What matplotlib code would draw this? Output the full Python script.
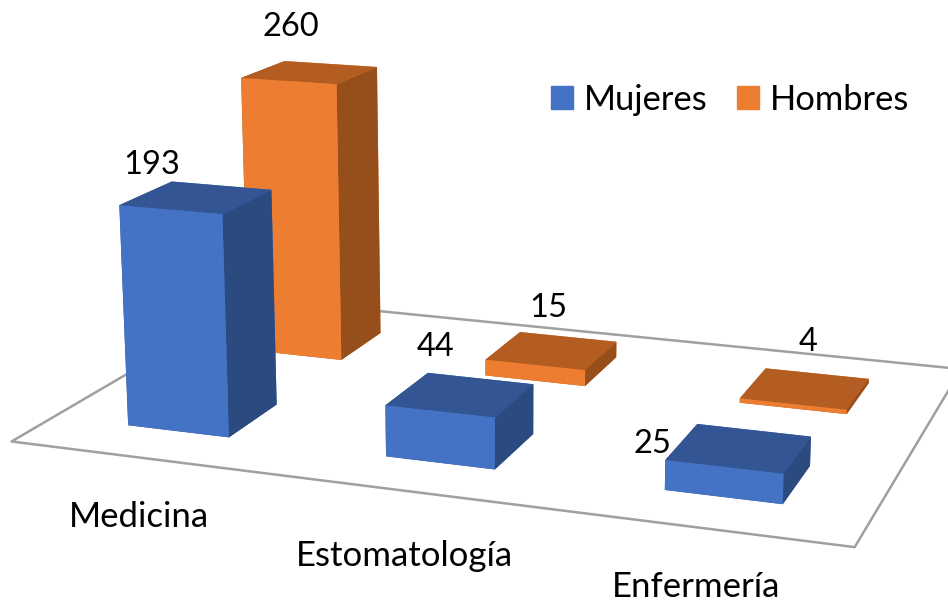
import matplotlib
matplotlib.use("Agg")
import matplotlib.pyplot as plt
from matplotlib.patches import Patch
from mpl_toolkits.mplot3d.art3d import Poly3DCollection

plt.rcParams['font.family'] = ['Lato', 'DejaVu Sans']

categories = ["Medicina", "Estomatología", "Enfermería"]
mujeres = [193, 44, 25]
hombres = [260, 15, 4]
# face colours in bar3d order: bottom, top, front, back, left, right
blue = ['#2f528f', '#335593', '#4472c4', '#4472c4', '#2f528f', '#2a4a80']
orange = ['#ae5a21', '#b35d22', '#ed7d31', '#ed7d31', '#ae5a21', '#964f1b']

# label centres in pixels from the top left of the picture
category_pos = [(139, 517), (404, 556), (696, 587)]
mujeres_pos = [(152, 165), (436, 347), (652, 444)]
hombres_pos = [(291, 27), (548, 308), (808, 342)]

W, H = 948, 604


def px_text(pos, s, size=24):
    fig.text(pos[0] / W, 1 - pos[1] / H, s, fontsize=size, color='black', ha='center', va='center')


fig = plt.figure(figsize=(9.48, 6.04), dpi=100)
ax = fig.add_axes([26.3 / W, 56.1 / H, 1, 1], projection='3d', computed_zorder=False)
ax.set_axis_off()
ax.set_proj_type('persp', focal_length=0.7446)
ax.view_init(elev=14.1154, azim=-70.3046)
ax.set_box_aspect((2.6, 1.7217, 1.093), zoom=1.6911)
ax.set_xlim(0, 3)
ax.set_ylim(0, 2)
ax.set_zlim(0, 300)

floor = [[(0, 0, 0), (3, 0, 0), (3, 2, 0), (0, 2, 0)]]
ax.add_collection3d(Poly3DCollection(floor, facecolor='white', edgecolor='#a0a0a0', linewidth=1.8, zorder=1, clip_on=False))

w, d = 0.4, 0.4
z = 2
for i in range(3):
    back = ax.bar3d(i + 0.3, 1.3, 0, w, d, hombres[i], color=orange, shade=False, zorder=z)
    front = ax.bar3d(i + 0.3, 0.3, 0, w, d, mujeres[i], color=blue, shade=False, zorder=z + 1)
    back.set_clip_on(False)
    front.set_clip_on(False)
    z += 2

for i, name in enumerate(categories):
    px_text(category_pos[i], name, 25)
    px_text(mujeres_pos[i], str(mujeres[i]), 23.5)
    px_text(hombres_pos[i], str(hombres[i]), 23.5)

fig.legend(handles=[Patch(color='#4472c4', label='Mujeres'), Patch(color='#ed7d31', label='Hombres')],
           ncol=2, frameon=False, fontsize=24.8, loc='center', bbox_to_anchor=(730 / W, 1 - 100 / H),
           handlelength=0.65, handleheight=0.65, handletextpad=0.3, columnspacing=0.85)

fig.savefig("out.png", dpi=100)
